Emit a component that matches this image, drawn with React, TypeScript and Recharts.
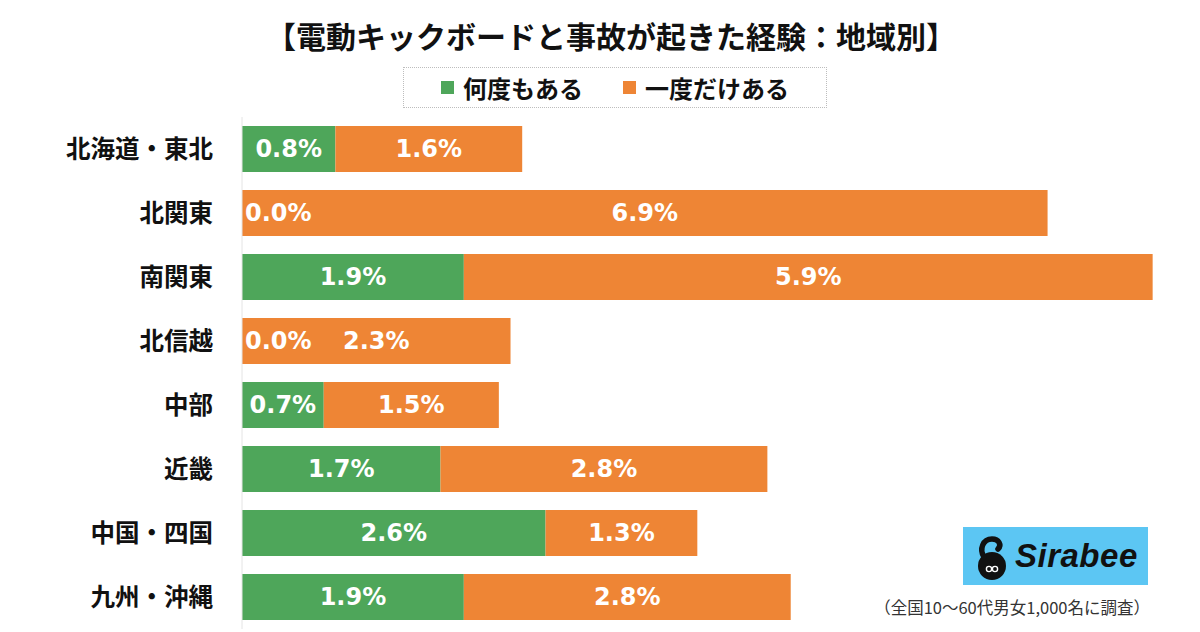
import React from "react";
import { Bar, BarChart, LabelList, Legend, XAxis, YAxis } from "recharts";

const regions = ["北海道・東北", "北関東", "南関東", "北信越", "中部", "近畿", "中国・四国", "九州・沖縄"];
const manyTimes = [0.8, 0.0, 1.9, 0.0, 0.7, 1.7, 2.6, 1.9];
const onceOnly = [1.6, 6.9, 5.9, 2.3, 1.5, 2.8, 1.3, 2.8];
const seriesNames = ["何度もある", "一度だけある"];

const GREEN = "#4ea65a";
const ORANGE = "#ee8535";
const JP = '"Noto Sans CJK JP", "Noto Sans", sans-serif';
const NUM = '"DejaVu Sans", "Noto Sans", sans-serif';

const data = regions.map((region, i) => ({ region, many: manyTimes[i], once: onceOnly[i] }));

const fmt = (v: number) => `${v.toFixed(1)}%`;

function RegionTick(props: any) {
  const { x, y, payload } = props;
  return (
    <text x={x} y={y} dy={8.5} textAnchor="end" fontFamily={JP} fontWeight={700} fontSize={24.5} fill="#111">
      {payload.value}
    </text>
  );
}

function ValueText({ x, y, anchor, value }: { x: number; y: number; anchor: string; value: number }) {
  return (
    <text x={x} y={y} dy={8.5} textAnchor={anchor as any} fontFamily={NUM} fontWeight={700} fontSize={24} fill="#fff">
      {fmt(value)}
    </text>
  );
}

function ManyLabel(props: any) {
  const { x, y, width, height, value } = props;
  if (value == null || Number(value) === 0) return null;
  return <ValueText x={x + width / 2} y={y + height / 2} anchor="middle" value={Number(value)} />;
}

// the orange segment also carries the "0.0%" label when the green part is empty
function OnceLabel(props: any) {
  const { x, y, width, height, value, index } = props;
  if (value == null) return null;
  const row = data[index];
  return (
    <g>
      {row && row.many === 0 && <ValueText x={x + 3} y={y + height / 2} anchor="start" value={0} />}
      <ValueText x={x + width / 2} y={y + height / 2} anchor="middle" value={Number(value)} />
    </g>
  );
}

function LegendBox() {
  const items = [
    { name: seriesNames[0], color: GREEN },
    { name: seriesNames[1], color: ORANGE },
  ];
  return (
    <div
      style={{
        boxSizing: "border-box",
        width: "100%",
        height: "100%",
        border: "1px dotted #bdbdbd",
        display: "flex",
        alignItems: "center",
        justifyContent: "center",
        gap: 40,
        fontFamily: JP,
        fontWeight: 700,
        fontSize: 24,
        color: "#111",
      }}
    >
      {items.map((it) => (
        <div key={it.name} style={{ display: "flex", alignItems: "center", gap: 9 }}>
          <span style={{ width: 13, height: 13, background: it.color, display: "inline-block" }} />
          <span>{it.name}</span>
        </div>
      ))}
    </div>
  );
}

function SirabeeLogo() {
  return (
    <div
      style={{
        position: "absolute",
        left: 963,
        top: 527,
        width: 185,
        height: 58,
        background: "#5cc6f3",
        display: "flex",
        alignItems: "center",
      }}
    >
      <svg width={50} height={58} viewBox="0 0 50 58" style={{ marginLeft: 4 }}>
        <circle cx={25} cy={39} r={14} fill="#111" />
        <path d="M17 30 C 12 22, 16 12, 25 12 C 32 12, 35 18, 31 22" stroke="#111" strokeWidth={5.5} fill="none" strokeLinecap="round" />
        <circle cx={22} cy={42} r={2.6} fill="none" stroke="#fff" strokeWidth={1.4} />
        <circle cx={28} cy={42} r={2.6} fill="none" stroke="#fff" strokeWidth={1.4} />
      </svg>
      <span
        style={{
          fontFamily: '"Liberation Sans", Arial, sans-serif',
          fontWeight: 700,
          fontStyle: "italic",
          fontSize: 33,
          color: "#111",
          letterSpacing: 0.5,
          marginLeft: -2,
        }}
      >
        Sirabee
      </span>
    </div>
  );
}

export default function App() {
  return (
    <div style={{ position: "fixed", left: 0, top: 0, width: 1200, height: 632, background: "#fff", overflow: "hidden" }}>
      <div
        style={{
          position: "absolute",
          left: 0,
          top: 13,
          width: 1222,
          textAlign: "center",
          fontFamily: JP,
          fontWeight: 700,
          fontSize: 30,
          color: "#111",
        }}
      >
        【電動キックボードと事故が起きた経験：地域別】
      </div>
      <BarChart
        width={1200}
        height={632}
        data={data}
        layout="vertical"
        margin={{ top: 117, right: 24, bottom: 3, left: 0 }}
        barCategoryGap="14%"
      >
        <XAxis type="number" domain={[0, 8]} hide />
        <YAxis
          type="category"
          dataKey="region"
          width={242}
          tickLine={false}
          tickSize={0}
          tickMargin={29}
          axisLine={{ stroke: "#e4e4e4" }}
          tick={<RegionTick />}
          interval={0}
        />
        <Legend
          layout="horizontal"
          verticalAlign="middle"
          align="center"
          content={() => <LegendBox />}
          wrapperStyle={{ top: 67, left: 403, width: 424, height: 41 }}
        />
        <Bar dataKey="many" name={seriesNames[0]} stackId="a" fill={GREEN} isAnimationActive={false}>
          <LabelList dataKey="many" content={<ManyLabel />} />
        </Bar>
        <Bar dataKey="once" name={seriesNames[1]} stackId="a" fill={ORANGE} isAnimationActive={false}>
          <LabelList dataKey="once" content={<OnceLabel />} />
        </Bar>
      </BarChart>
      <SirabeeLogo />
      <div
        style={{
          position: "absolute",
          right: 50,
          top: 595,
          fontFamily: JP,
          fontSize: 16.5,
          color: "#333",
        }}
      >
        （全国10〜60代男女1,000名に調査）
      </div>
    </div>
  );
}
